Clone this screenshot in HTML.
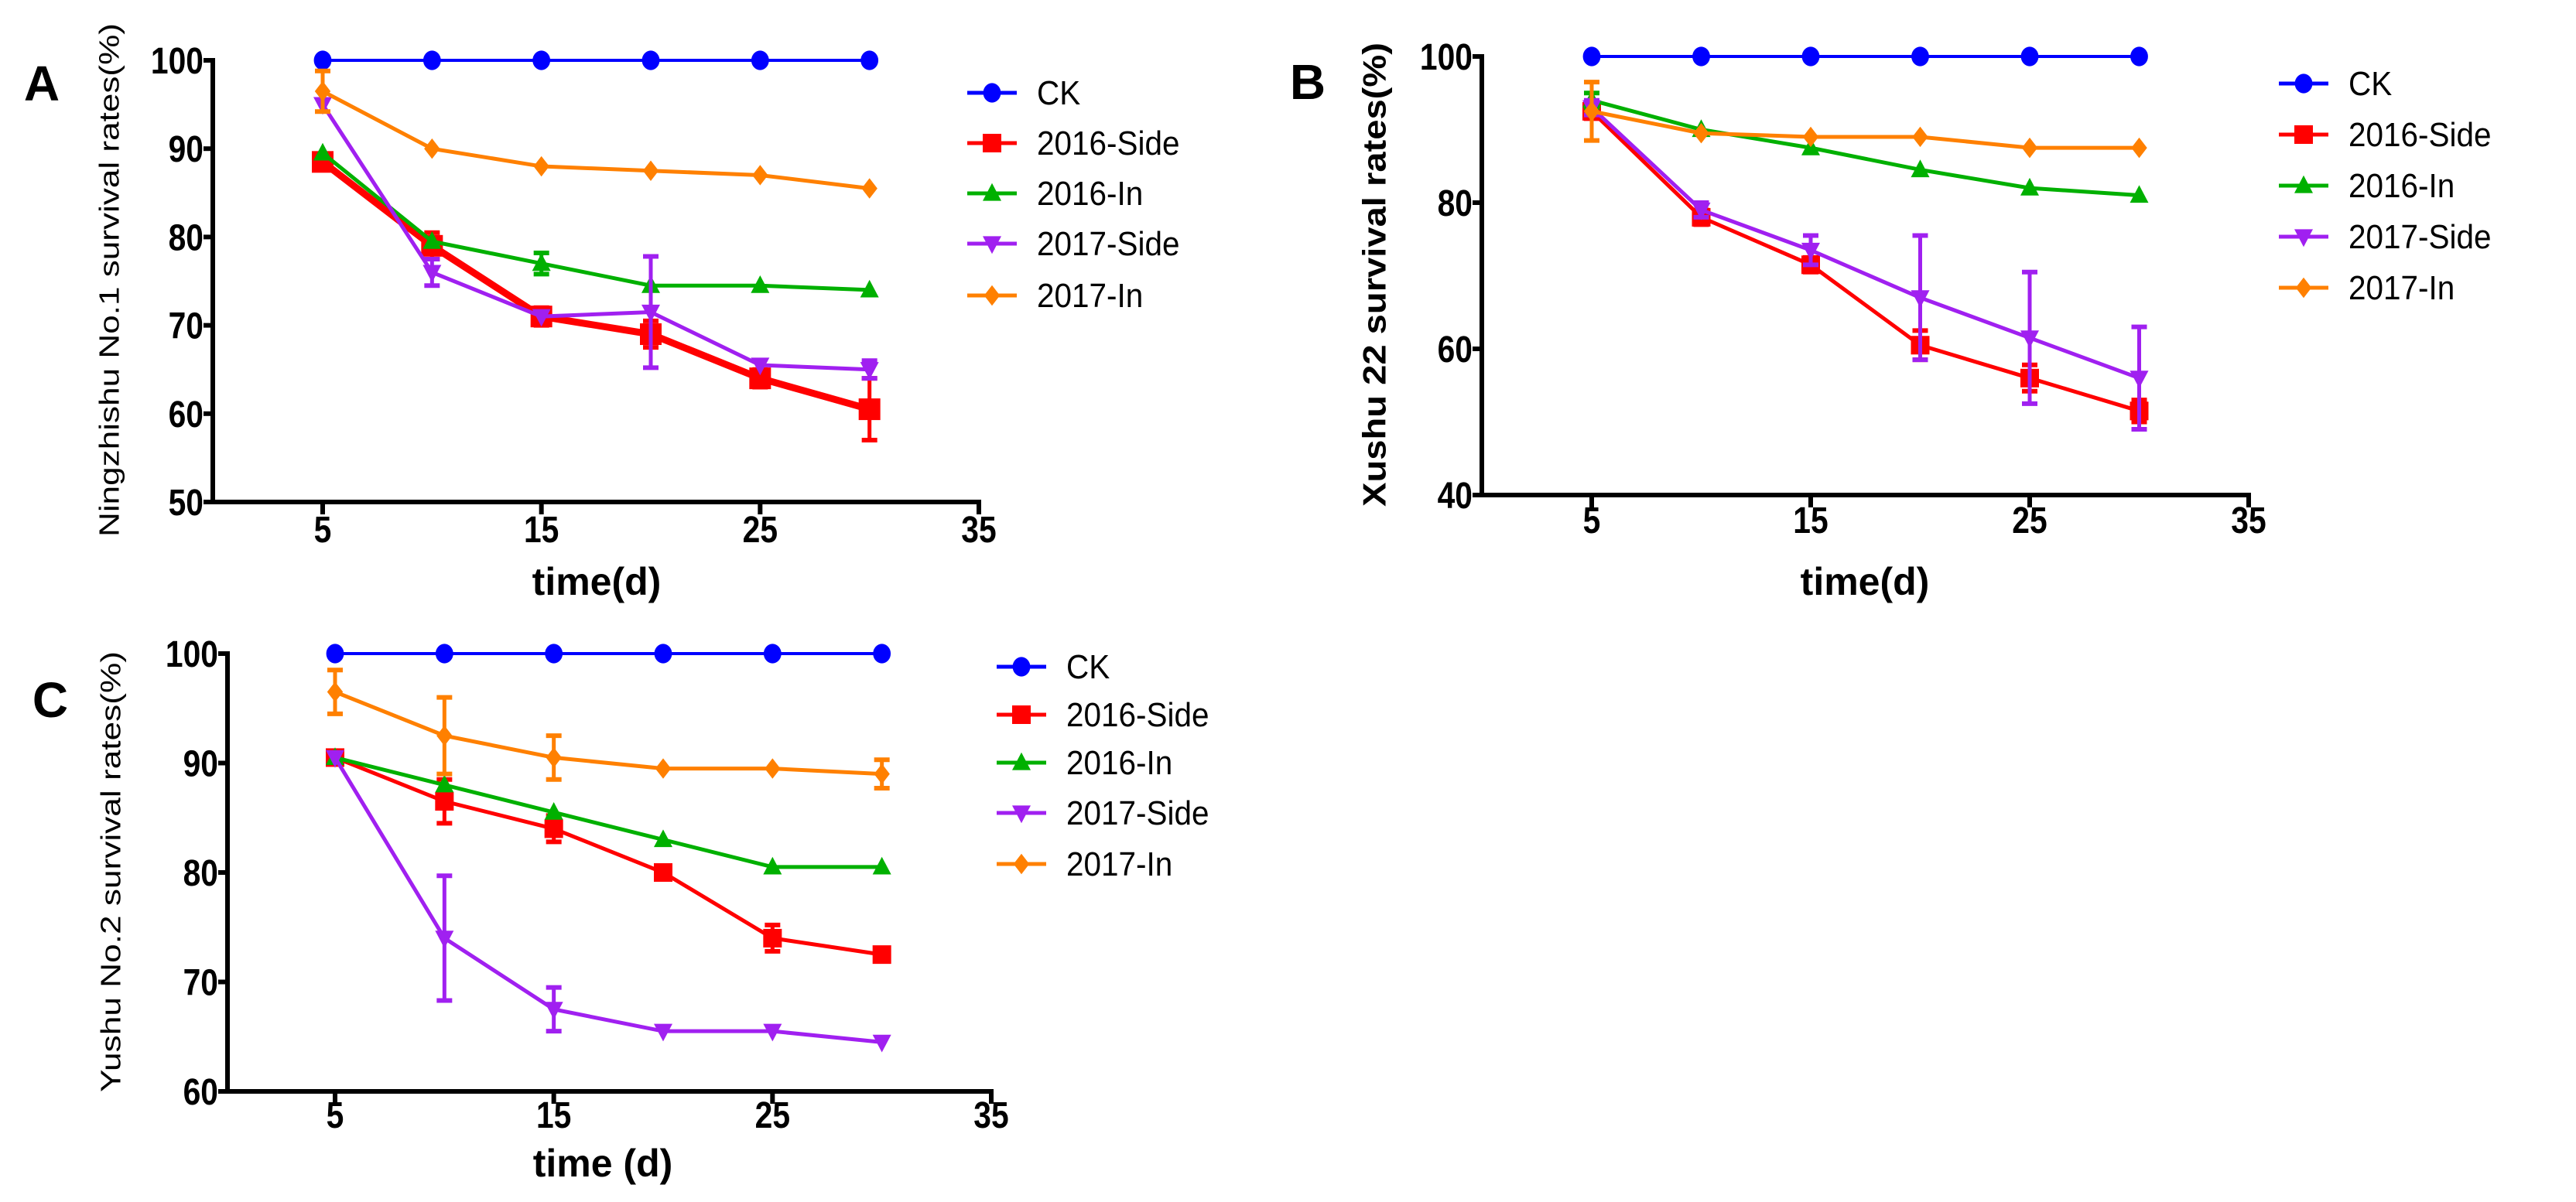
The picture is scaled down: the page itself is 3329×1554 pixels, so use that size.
<!DOCTYPE html>
<html><head><meta charset="utf-8"><style>
body{margin:0;background:#fff;}
svg{display:block;font-family:"Liberation Sans",Arial,sans-serif;}
</style></head><body>
<svg id="fig" width="3329" height="1554" viewBox="0 0 3329 1554" xmlns="http://www.w3.org/2000/svg"></svg>
<script>
const days = [5,10,15,20,25,30];
const seriesNames = ["CK","2016-Side","2016-In","2017-Side","2017-In"];
// Panel A values
const aCK = [100,100,100,100,100,100];
const a16Side = [88.5,79,71,69,64,60.5];
const a16SideErr = [0.8,1.5,1,1.5,1,3.5];
const a16In = [89.5,79.5,77,74.5,74.5,74];
const a16InErr = [0.5,0.5,1.2,0.5,0.5,0.5];
const a17Side = [95,76,71,71.5,65.5,65];
const a17SideErr = [0.5,1.5,0.5,6.3,0.5,1];
const a17In = [96.5,90,88,87.5,87,85.5];
const a17InErr = [2.3,0.5,0.5,0.5,0.5,0.5];
// Panel B values
const bCK = [100,100,100,100,100,100];
const b16Side = [92.5,78,71.5,60.5,56,51.5];
const b16SideErr = [1,1,1,2,1.8,1.5];
const b16In = [94,90,87.5,84.5,82,81];
const b16InErr = [1,0.5,0.5,0.5,0.5,0.5];
const b17Side = [93,79,73.5,67,61.5,56];
const b17SideErr = [1,1,2,8.5,9,7];
const b17In = [92.5,89.5,89,89,87.5,87.5];
const b17InErr = [4,0.5,0.5,0.5,0.5,0.5];
// Panel C values
const cCK = [100,100,100,100,100,100];
const c16Side = [90.5,86.5,84,80,74,72.5];
const c16SideErr = [0.5,2,1.2,0.5,1.2,0.5];
const c16In = [90.5,88,85.5,83,80.5,80.5];
const c16InErr = [0.5,0.5,0.5,0.5,0.5,0.5];
const c17Side = [90.5,74,67.5,65.5,65.5,64.5];
const c17SideErr = [0.5,5.7,2,0.5,0.5,0.5];
const c17In = [96.5,92.5,90.5,89.5,89.5,89];
const c17InErr = [2,3.5,2,0.5,0.5,1.3];
const xTicks = [5,15,25,35];
const aYTicks = [50,60,70,80,90,100];
const bYTicks = [40,60,80,100];
const cYTicks = [60,70,80,90,100];

const NS="http://www.w3.org/2000/svg";
const svg=document.getElementById('fig');
const colors=["#0000ff","#ff0000","#00b000","#a020f0","#ff8000"];
const shapes=["circle","square","tri","tridown","diamond"];
function mk(tag,attrs,parent){const e=document.createElementNS(NS,tag);for(const k in attrs)e.setAttribute(k,attrs[k]);(parent||svg).appendChild(e);return e;}
function marker(g,shape,cx,cy,s,col){
  let e;
  if(shape==="circle") e=mk('ellipse',{cx:cx,cy:cy,rx:s*0.95,ry:s*1.05,fill:col},g);
  else if(shape==="square") e=mk('rect',{x:cx-s,y:cy-s,width:2*s,height:2*s,fill:col},g);
  else if(shape==="tri") e=mk('polygon',{points:`${cx},${cy-s*1.1} ${cx-s},${cy+s*0.8} ${cx+s},${cy+s*0.8}`,fill:col},g);
  else if(shape==="tridown") e=mk('polygon',{points:`${cx},${cy+s*1.1} ${cx-s},${cy-s*0.8} ${cx+s},${cy-s*0.8}`,fill:col},g);
  else e=mk('polygon',{points:`${cx},${cy-s*1.1} ${cx+s*0.85},${cy} ${cx},${cy+s*1.1} ${cx-s*0.85},${cy}`,fill:col},g);
  return e;
}
function panel(p){
  const g=mk('g',{});
  
  
  const X=v=>p.x0+(v-5)/30*(p.x1-p.x0);
  const Y=v=>p.yTop+(p.yMax-v)/(p.yMax-p.yMin)*(p.yBot-p.yTop);
  const ya=mk('line',{x1:p.ax,y1:Y(p.yMax)-3,x2:p.ax,y2:p.yBot+3,stroke:"#000","stroke-width":6},g);
  
  const xa=mk('line',{x1:p.ax-3,y1:p.yBot,x2:p.x1+3,y2:p.yBot,stroke:"#000","stroke-width":6},g);
  
  p.yTicks.forEach(t=>{
    mk('line',{x1:p.ax-12,y1:Y(t),x2:p.ax,y2:Y(t),stroke:"#000","stroke-width":6},g);
    const tl=mk('text',{x:p.ax-12,y:Y(t)+17,"text-anchor":"end","font-size":48,"font-weight":"bold",transform:`translate(${p.ax-12},0) scale(0.85,1) translate(${-(p.ax-12)},0)`},g);
    tl.textContent=t;
    
  });
  xTicks.forEach(t=>{
    mk('line',{x1:X(t),y1:p.yBot,x2:X(t),y2:p.yBot+16,stroke:"#000","stroke-width":6},g);
    const tl=mk('text',{x:X(t),y:p.tickY+17,"text-anchor":"middle","font-size":48,"font-weight":"bold",transform:`translate(${X(t)},0) scale(0.85,1) translate(${-X(t)},0)`},g);
    tl.textContent=t;
    
  });
  const xt=mk('text',{x:p.xtX,y:p.xtY+18,"text-anchor":"middle","font-size":50,"font-weight":"bold"},g);
  xt.textContent=p.xTitle;
  
  const yt=mk('text',{x:0,y:0,"text-anchor":"middle","font-size":p.ytSize,"font-weight":p.ytWeight,transform:`translate(${p.ytX+p.ytSize*0.35},${p.ytY}) rotate(-90)`,textLength:p.ytLen,lengthAdjust:"spacingAndGlyphs"},g);
  yt.textContent=p.yTitle;
  
  const lab=mk('text',{x:p.labX,y:p.labY+22,"text-anchor":"middle","font-size":64,"font-weight":"bold"},g);
  lab.textContent=p.id.toUpperCase();
  
  p.series.forEach((s,i)=>{
    const sg=mk('g',{},g);
    
    
    const col=colors[i];
    const lw=(p.id==='a'&&i===1)?9:(i===0?4:5);
    const pts=s.v.map((v,j)=>X(days[j])+','+Y(v)).join(' ');
    mk('polyline',{points:pts,fill:"none",stroke:col,"stroke-width":lw},sg);
    if(s.e){s.v.forEach((v,j)=>{
      const e=s.e[j]; if(e<0.8) return;
      const cx=X(days[j]);
      mk('line',{x1:cx,y1:Y(v+e),x2:cx,y2:Y(v-e),stroke:col,"stroke-width":5},sg);
      mk('line',{x1:cx-10,y1:Y(v+e),x2:cx+10,y2:Y(v+e),stroke:col,"stroke-width":6},sg);
      mk('line',{x1:cx-10,y1:Y(v-e),x2:cx+10,y2:Y(v-e),stroke:col,"stroke-width":6},sg);
    });}
    s.v.forEach((v,j)=>{
      const m=marker(sg,shapes[i],X(days[j]),Y(v),(i===1&&p.id==='a')?14:12,col);
      
      
    });
  });
  seriesNames.forEach((n,i)=>{
    const lg=mk('g',{},g);
    
    
    const ly=p.legY[i];
    mk('line',{x1:p.legX,y1:ly,x2:p.legX+64,y2:ly,stroke:colors[i],"stroke-width":5},lg);
    marker(lg,shapes[i],p.legX+32,ly,12,colors[i]);
    const t=mk('text',{x:p.legX+90,y:ly+15,"font-size":44,transform:`translate(${p.legX+90},0) scale(0.92,1) translate(${-(p.legX+90)},0)`},lg);
    t.textContent=n;
  });
}
panel({id:'a',ax:275,x0:417,x1:1265,yTop:78,yBot:649,yMin:50,yMax:100,yTicks:aYTicks,tickY:684,
  xTitle:"time(d)",xtX:771,xtY:751,yTitle:"Ningzhishu No.1 survival rates(%)",ytX:141,ytY:362,ytSize:36,ytWeight:"normal",ytLen:664,
  labX:54,labY:108,legX:1250,legY:[120,185,250,315,382],
  series:[{v:aCK},{v:a16Side,e:a16SideErr},{v:a16In,e:a16InErr},{v:a17Side,e:a17SideErr},{v:a17In,e:a17InErr}]});
panel({id:'b',ax:1915,x0:2057,x1:2906,yTop:73,yBot:640,yMin:40,yMax:100,yTicks:bYTicks,tickY:672,
  xTitle:"time(d)",xtX:2410,xtY:751,yTitle:"Xushu 22 survival rates(%)",ytX:1776,ytY:355,ytSize:42,ytWeight:"bold",ytLen:600,
  labX:1690,labY:106,legX:2945,legY:[108,174,240,306,372],
  series:[{v:bCK},{v:b16Side,e:b16SideErr},{v:b16In,e:b16InErr},{v:b17Side,e:b17SideErr},{v:b17In,e:b17InErr}]});
panel({id:'c',ax:294,x0:433,x1:1281,yTop:845,yBot:1411,yMin:60,yMax:100,yTicks:cYTicks,tickY:1441,
  xTitle:"time (d)",xtX:779,xtY:1503,yTitle:"Yushu No.2 survival rates(%)",ytX:143,ytY:1127,ytSize:36,ytWeight:"normal",ytLen:570,
  labX:65,labY:905,legX:1288,legY:[862,924,986,1051,1117],
  series:[{v:cCK},{v:c16Side,e:c16SideErr},{v:c16In,e:c16InErr},{v:c17Side,e:c17SideErr},{v:c17In,e:c17InErr}]});
</script>
</body></html>
